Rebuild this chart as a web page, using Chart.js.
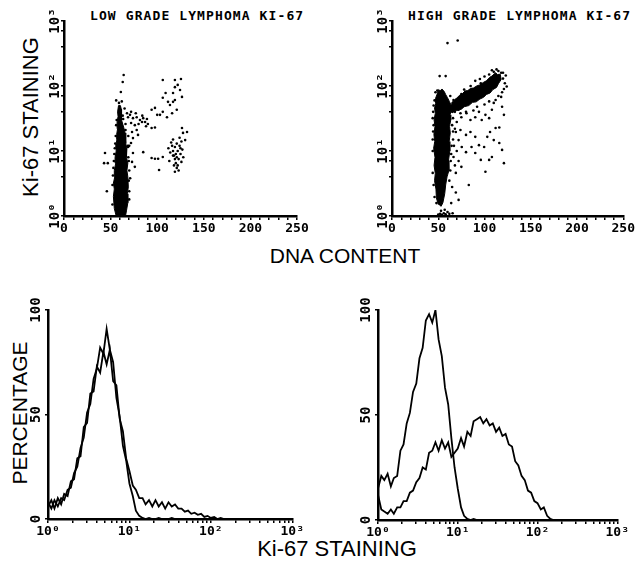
<!DOCTYPE html>
<html>
<head>
<meta charset="utf-8">
<script src="https://cdn.jsdelivr.net/npm/chart.js@4.4.0/dist/chart.umd.min.js"></script>
<style>
  body { margin: 0; background: #fff; }
  #page { position: relative; width: 636px; height: 570px; overflow: hidden; background: #fff; }
  canvas { position: absolute; }
  .ttl { position: absolute; font: bold 13px "DejaVu Sans Mono"; letter-spacing: 1.1px; line-height: 13px; white-space: nowrap; }
  .lbl { position: absolute; font: 22px "Liberation Sans"; line-height: 22px; white-space: nowrap; transform: translate(-50%, -50%); }
  .rot { transform: translate(-50%, -50%) rotate(-90deg); }
</style>
</head>
<body>
<div id="page">
  <div class="ttl" style="left:90px;top:9px">LOW GRADE LYMPHOMA KI-67</div>
  <div class="ttl" style="left:408px;top:9px">HIGH GRADE LYMPHOMA KI-67</div>
  <div class="lbl rot" style="left:31px;top:117px">Ki-67 STAINING</div>
  <div class="lbl" style="left:345px;top:256px;font-size:21px">DNA CONTENT</div>
  <div class="lbl rot" style="left:20px;top:413px;font-size:21px">PERCENTAGE</div>
  <div class="lbl" style="left:337px;top:549px">Ki-67 STAINING</div>

  <canvas id="lowScatter" width="276" height="240" style="left:34px;top:0px"></canvas>
  <canvas id="highScatter" width="274" height="240" style="left:362px;top:0px"></canvas>
  <canvas id="lowHist" width="295" height="253" style="left:10px;top:290px"></canvas>
  <canvas id="highHist" width="290" height="254" style="left:340px;top:290px"></canvas>
</div>
<script>
// tick labels
const dnaTicks = [0, 50, 100, 150, 200, 250];
const decadeValues = [1, 10, 100, 1000];
const decadeLabels = ['10⁰', '10¹', '10²', '10³'];
const pctValues = [0, 50, 100];
const pctLabels = ['0', '50', '100'];

// scatter: dense cores as outlines [DNA, Ki-67], loose events as dots
const lowCore = [[56,1.0],[54,1.3],[53,2],[54,2.6],[53,3.2],[54.5,4],[54,5],[55.5,6.5],[54.8,8],[56,10],[55.5,12],[56.8,15],
  [56.5,18],[57.5,22],[57,28],[58,34],[57.5,40],[58.5,50],[60.5,50],[61.5,44],[62,36],[61.5,30],[63,26],[64.5,22],[65.5,19],
  [66.5,16],[66,13],[67.5,11],[67,8],[68.5,6.5],[67.5,5],[68.5,4],[69,2.8],[68,2.2],[68.5,1.6],[67,1.2],[66,1.0]];
const lowDots = [[64,148],[63,115],[61,81],[67.6,38],[68.7,33],[70.8,36],[74,32],[78,33],[81.5,30],[85,32],[83.7,28],[87,28],
  [94,43],[97.6,46],[100,36],[94,22.6],[97.6,23],[103,36],[106,40],[106,66],[109,78],[106,124],[111.6,57],[113.7,51],[117,57],
  [119,61],[117,78],[119,96],[119,124],[122,104],[125.5,128],[124.5,87],[126.6,68],[110.5,33],[116,38],[121,43],[126.6,22.6],
  [127.7,19],[132,19.6],[130,14.7],[94,7.8],[97.6,7.6],[101,7.6],[106,8.1],[102,5.1],[85,9.6],[79.4,17.7],[73,19.6],[78,21],
  [74,15.8],[68.7,11.5],[71.9,13.3],[74,9.3],[73,6.8],[76,5.7],[44,9.3],[43,6.5],[47,6.5],[46,2.4],[71,3.8],[67.6,1.77],
  [112,11],[114,9.5],[116,12],[117,10],[118,8.5],[119,11.5],[120,9],[121,13],[122,10],[123,7.5],[124,12],[125,9],[126,14],
  [127,10.5],[120,6.5],[121,5.5],[118,6],[122,6],[119,4.8],[123,5],[115,13.5],[117,15],[124,16],[128,8],[113,7],[126,6.8],
  [125,11],[121,8],[119,7.5],[117,8.5],[52,3],[53,5.5],[54,9],[55,13],[56,25],[59,55],[63,35],[64,18],[66,26],[69,8],[70,5],
  [70,12],[69,17],[52,1.5],[70,1.8],[56,60],[62,58],[65,45],[72,27],[76,25],[80,26],[89,31],[90,26],[84,35],[77,38],[72,40],[88,24],
  [52.5,4.2],[53.5,7],[54.5,11],[55.5,17],[56.5,30],[59.5,42],[63.5,31],[66,21],[68.5,12],[69.5,7],[69.5,3.5],[70,2.4]];

const highCore = [[50,1.5],[48,1.9],[47.5,2.6],[46,3.5],[46.8,4.5],[45.5,6],[46.5,8],[45,11],[46.2,14],[45.3,18],[46.5,24],
  [45.5,30],[46.8,38],[46,46],[47.5,55],[47,64],[48.8,75],[50.5,88],[52,84],[54,90],[56.5,82],[58,74],[60,66],[62,58],[64,50],
  [64,42],[62.8,36],[63.5,30],[62.2,24],[63,19],[61.8,14],[62.5,10],[61,7],[61.5,5],[59.5,4],[58,3],[57,2.2],[55,1.6],[53,1.4]];
const highBand = [[63,39],[70,42],[75,44],[78,48],[83,50],[87,56],[91,57],[95,63],[99,67],[102,74],[106,78],[109,88],[113,95],
  [115,108],[118,126],[117,152],[114,150],[112,160],[108,142],[106,137],[102,120],[99,114],[95,104],[92,101],[88,93],[85,92],
  [82,85],[79,84],[76,76],[73,72],[70,65],[68,62],[64,54]];
const highDots = [[60,457],[71,500],[51.5,142],[58,142],[66.5,61],[71.9,43],[75,33],[80.5,38],[84.8,30],[90,33],[94,40],[97,30],
  [101,36],[105,32],[108,43],[112,61],[118,68],[119,48],[121,36],[116,23],[112,22.6],[106,19.6],[103,16.5],[110,14.7],[116,13.3],
  [119,10.4],[121,6.5],[108,8.1],[105,7.3],[101,4.8],[96,7.3],[90,9.3],[86,11.5],[80,9.6],[75.4,11.5],[72,14.7],[69,19.6],[74,21],
  [80,17.7],[84.8,19.6],[90,16.5],[94,12.3],[99.6,11.5],[66.5,8.1],[69,4.6],[65,2.8],[69,2.3],[72,1.77],[83,3.0],[75,5.7],
  [64,1.58],[48,1.58],[46,1.96],[44,4.6],[60,1.15],[65.5,1.1],[50,1.05],[52,1.08],[54,1.04],[56,1.1],[58,1.06],[62,1.08],
  [53,1.2],[57,1.25],[66,55],[70,62],[75,75],[78,88],[85,100],[90,120],[95,128],[100,140],[105,150],[110,165],[115,170],
  [118,160],[120,130],[122,110],[121,90],[119,80],[115,70],[110,55],[105,58],[100,52],[92,48],[88,42],[80,40],[74,38],[68,40],
  [113,180],[108,175],[96,110],[104,95],[111,120],[123,145],[124,98],[44,10],[45,25],[44.5,40],[46,60],[65,25],[66,15],[64,9],
  [63,5],[45,3],[47,80],[63,70],[66,32],[68,22],[70,28],[70,10],[72,7],[67,12],[68,6],[44,15],[44.5,20],[44,32],[45,50],
  [65.5,40],[66,20],[64.5,12],[63.5,7],[62,3.5],[49,85],[72,52],[82,60],[98,80],[107,100],[116,138],[120,160]];

// histograms: Ki-67 channel value and percentage of the two curves
const histX = [1.00,1.10,1.20,1.32,1.45,1.58,1.74,1.91,2.09,2.29,2.51,2.75,3.02,3.31,3.63,3.98,4.37,4.79,5.25,5.75,6.31,6.92,7.59,8.32,9.12,
  10.0,11.0,12.0,13.2,14.5,15.8,17.4,19.1,20.9,22.9,25.1,27.5,30.2,33.1,36.3,39.8,43.7,47.9,52.5,57.5,63.1,69.2,75.9,83.2,91.2,
  100,110,120,132,145,158,174,191,209,229,251,275,302,331,363,398,437,479,525,575,631,692,759,832,912,1000];
const lowA = [8,5,9,6,10,9,14,15,22,25,34,39,51,55,67,72,82,79,91,81,75,58,49,35,28,
  17,11,4,1.5,0.5,0,0.5,0,0,0.5,0,0,0,0.5,0,0,0,0,0,0,0,0,0,0,0,
  0,0,0,0,0,0,0,0,0,0,0,0,0,0,0,0,0,0,0,0,0,0,0,0,0,0];
const lowB = [6,9,5,10,7,12,11,18,19,29,30,44,46,60,61,73,70,80,74,81,66,64,48,42,29,
  23,16,14,10,10,7,9,6,9,6,8,5,8,6,7,5,5,3.5,4,2.5,3,2,2.5,1,1.5,
  0.5,1,0,0.5,0,0,0,0,0,0,0,0,0,0,0,0,0,0,0,0,0,0,0,0,0,0];
const highA = [15,21,19,22,16,20,21,33,36,46,51,61,65,77,82,95,98,94,100,86,78,63,55,39,25,
  15,6,2,0.5,0,0.5,0,0,0,0,0,0,0,0,0,0,0,0,0,0,0,0,0,0,0,
  0,0,0,0,0,0,0,0,0,0,0,0,0,0,0,0,0,0,0,0,0,0,0,0,0,0];
const highB = [12,5,4,3,5,3,6,6,9,9,13,14,18,20,25,24,32,33,37,33,38,34,37,30,32,
  34,39,35,42,40,47,48,49,46,48,45,46,42,44,40,41,36,35,28,26,21,19,14,13,9,
  8,5,6,2,0.5,0,0,0,0,0,0,0,0,0,0,0,0,0,0,0,0,0,0,0,0,0];

const logTicks = [];
[1, 10, 100].forEach(d => { for (let m = 1; m < 10; m++) logTicks.push(d * m); });
logTicks.push(1000);

// rotated y tick labels, placed with the y scale
const rotatedYLabels = {
  id: 'rotatedYLabels',
  afterDraw(chart, args, opts) {
    const y = chart.scales.y;
    const ctx = chart.ctx;
    ctx.save();
    ctx.fillStyle = '#000';
    ctx.font = 'bold 14px "DejaVu Sans Mono"';
    ctx.textAlign = 'center';
    ctx.textBaseline = 'bottom';
    opts.values.forEach((v, i) => {
      ctx.save();
      ctx.translate(y.right - opts.gap, y.getPixelForValue(v));
      ctx.rotate(-Math.PI / 2);
      ctx.fillText(opts.labels[i], 0, 0);
      ctx.restore();
    });
    ctx.restore();
  }
};

const tickFont = { family: 'DejaVu Sans Mono', size: 13, weight: 'bold' };
const axisGrid = { drawOnChartArea: false, drawTicks: true, tickLength: 4, color: '#000', lineWidth: 1.5 };
const axisBorder = { display: true, color: '#000', width: 2.5 };
const pts = arr => arr.map(p => ({ x: p[0], y: p[1] }));

function makeScatter(id, shapes, dots, padRight) {
  const datasets = shapes.map(s => ({
    type: 'line', data: pts(s), fill: 'shape', backgroundColor: '#000', borderColor: '#000',
    borderWidth: 1, pointRadius: 0, tension: 0
  }));
  datasets.push({ data: pts(dots), pointRadius: 1.3, pointBackgroundColor: '#000', pointBorderWidth: 0 });
  new Chart(document.getElementById(id), {
    type: 'scatter',
    data: { datasets },
    plugins: [rotatedYLabels],
    options: {
      responsive: false, animation: false,
      layout: { padding: { top: 21, right: padRight, left: 0, bottom: 0 } },
      plugins: { legend: { display: false }, tooltip: { enabled: false },
        rotatedYLabels: { values: decadeValues, labels: decadeLabels, gap: 2 } },
      scales: {
        x: { type: 'linear', min: 0, max: 250, grid: axisGrid, border: axisBorder,
          ticks: { stepSize: 10, autoSkip: false, maxRotation: 0, color: '#000', font: tickFont, padding: 1,
            callback: v => dnaTicks.includes(v) ? String(v) : '' },
          afterFit: s => { s.height = 24; } },
        y: { type: 'logarithmic', min: 1, max: 1000, grid: { ...axisGrid, tickLength: 3 }, border: axisBorder,
          afterBuildTicks: s => { s.ticks = logTicks.map(v => ({ value: v })); },
          ticks: { callback: () => '' },
          afterFit: s => { s.width = 30; } }
      }
    }
  });
}

function makeHist(id, a, b, padRight) {
  const line = vals => ({
    data: histX.map((x, i) => ({ x, y: vals[i] })), borderColor: '#000', borderWidth: 1.8,
    pointRadius: 0, tension: 0, fill: false
  });
  new Chart(document.getElementById(id), {
    type: 'line',
    data: { datasets: [line(a), line(b)] },
    plugins: [rotatedYLabels],
    options: {
      responsive: false, animation: false,
      layout: { padding: { top: 20, right: padRight, left: 0, bottom: 0 } },
      plugins: { legend: { display: false }, tooltip: { enabled: false },
        rotatedYLabels: { values: pctValues, labels: pctLabels, gap: 5 } },
      scales: {
        x: { type: 'logarithmic', min: 1, max: 1000, grid: axisGrid, border: axisBorder,
          afterBuildTicks: s => { s.ticks = logTicks.map(v => ({ value: v })); },
          ticks: { autoSkip: false, maxRotation: 0, color: '#000', font: tickFont, padding: 1,
            callback: v => { const i = decadeValues.indexOf(v); return i >= 0 ? decadeLabels[i] : ''; } },
          afterFit: s => { s.height = 24; } },
        y: { type: 'linear', min: 0, max: 100, grid: { ...axisGrid, tickLength: 3 }, border: axisBorder,
          ticks: { stepSize: 50, callback: () => '' },
          afterFit: s => { s.width = 38; } }
      }
    }
  });
}

makeScatter('lowScatter', [lowCore], lowDots, 13);
makeScatter('highScatter', [highCore, highBand], highDots, 11);
makeHist('lowHist', lowA, lowB, 12);
makeHist('highHist', highA, highB, 10);
</script>
</body>
</html>
